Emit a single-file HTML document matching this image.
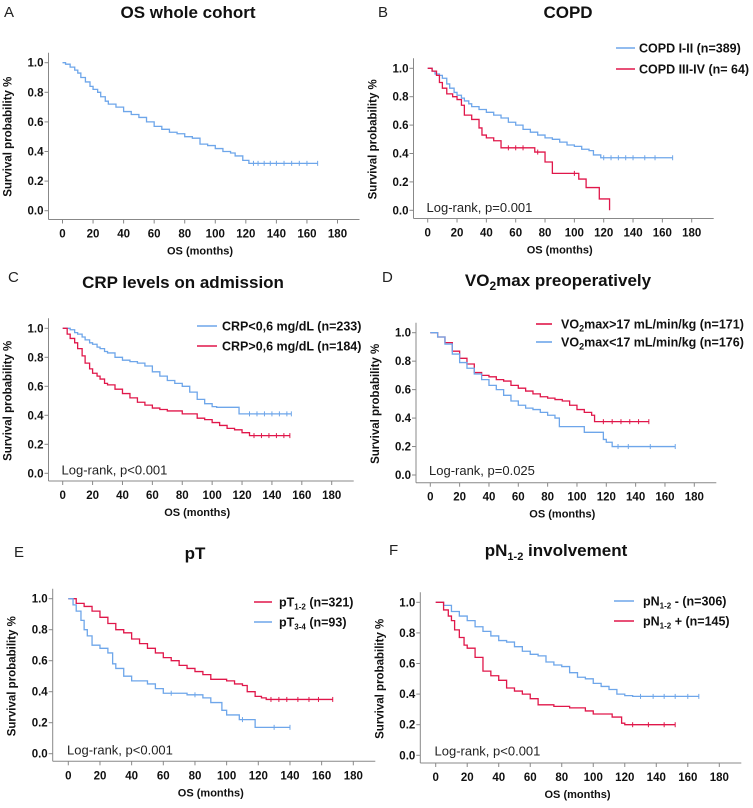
<!DOCTYPE html>
<html><head><meta charset="utf-8"><style>
html,body{margin:0;padding:0;background:#fff;}
svg{display:block;font-family:"Liberation Sans",Arial,sans-serif;}
</style></head><body>
<svg id="fig" width="753" height="808" viewBox="0 0 753 808" xmlns="http://www.w3.org/2000/svg"></svg>
<script>
const xTicks=[0,20,40,60,80,100,120,140,160,180];
const yTicks=[0.0,0.2,0.4,0.6,0.8,1.0];
// Panel A
const aT=[0,2,5,8,10,12,15,18,20,23,25,28,30,35,40,45,50,55,60,65,70,75,80,85,90,95,100,105,110,113,118,122,125,167];
const aS=[1,.99,.97,.95,.93,.90,.87,.84,.82,.80,.77,.74,.72,.70,.67,.65,.63,.60,.57,.55,.53,.52,.50,.49,.45,.44,.42,.40,.39,.37,.34,.32,.32,.32];
const aC=[125,128,132,136,140,145,150,155,160,167];
// Panel B
const bBlueT=[0,3,5,8,10,13,15,18,20,23,25,28,30,35,40,45,50,55,60,65,70,75,80,85,90,95,100,105,110,113,118,167];
const bBlueS=[1,.98,.96,.95,.93,.89,.86,.83,.81,.79,.77,.75,.73,.71,.69,.67,.65,.62,.60,.57,.55,.53,.51,.50,.48,.46,.45,.43,.42,.39,.37,.37];
const bBlueC=[120,125,130,135,140,148,155,167];
const bRedT=[0,3,6,8,10,13,17,20,23,25,30,35,37,40,45,50,70,73,80,85,100,103,108,117,124];
const bRedS=[1,.98,.95,.90,.86,.82,.80,.78,.74,.67,.64,.58,.53,.51,.49,.44,.44,.41,.34,.26,.26,.22,.16,.08,0];
const bRedC=[55,60,65,75,100];
// Panel C
const cBlueT=[0,5,8,10,13,15,18,20,23,25,28,30,35,40,45,50,55,60,65,70,75,80,85,90,95,100,103,118,153];
const cBlueS=[1,.99,.97,.96,.94,.92,.90,.89,.87,.86,.84,.83,.80,.78,.77,.76,.74,.70,.67,.64,.62,.60,.56,.51,.48,.46,.455,.41,.41];
const cBlueC=[125,130,135,140,145,150,153];
const cRedT=[0,3,5,8,10,13,15,18,20,23,25,28,30,35,40,45,50,55,60,65,70,80,90,95,100,105,110,115,120,125,152];
const cRedS=[1,.96,.93,.90,.86,.81,.76,.72,.69,.67,.65,.62,.61,.58,.55,.52,.49,.47,.45,.44,.43,.41,.38,.37,.35,.33,.31,.30,.28,.26,.26];
const cRedC=[128,133,138,143,148,152];
// Panel D
const dRedT=[0,5,10,15,20,25,30,35,40,45,50,55,60,65,70,75,80,85,90,95,100,105,110,112,149];
const dRedS=[1,.97,.93,.87,.82,.78,.72,.70,.69,.67,.66,.63,.61,.59,.57,.55,.54,.53,.52,.49,.46,.44,.42,.375,.375];
const dRedC=[118,124,130,136,142,149];
const dBlueT=[0,5,10,15,20,25,30,35,40,45,50,55,60,65,70,75,80,85,88,105,118,120,124,167];
const dBlueS=[1,.97,.92,.85,.79,.75,.71,.67,.63,.60,.56,.52,.49,.47,.46,.44,.42,.40,.34,.30,.25,.23,.20,.20];
const dBlueC=[128,135,150,167];
// Panel E
const eRedT=[0,5,10,15,20,25,30,35,40,45,50,55,60,65,70,75,80,85,90,100,105,110,113,118,122,125,167];
const eRedS=[1,.97,.95,.92,.88,.84,.80,.78,.74,.71,.68,.65,.62,.60,.57,.55,.53,.51,.48,.47,.45,.44,.40,.37,.36,.35,.35];
const eRedC=[128,133,138,145,152,158,167];
const eBlueT=[0,3,5,8,10,12,15,20,25,28,30,35,40,50,55,60,75,85,90,95,97,100,108,118,140];
const eBlueS=[1,.96,.92,.86,.80,.76,.70,.68,.65,.58,.55,.50,.47,.45,.42,.39,.38,.36,.33,.33,.28,.25,.22,.17,.17];
const eBlueC=[65,80,110,130,140];
// Panel F
const fBlueT=[0,5,10,15,20,25,30,35,40,45,50,55,60,65,70,75,80,85,90,95,100,105,110,115,120,125,167];
const fBlueS=[1,.98,.94,.91,.88,.84,.81,.78,.75,.74,.71,.68,.66,.65,.61,.59,.58,.54,.51,.50,.47,.45,.43,.40,.39,.385,.385];
const fBlueC=[130,138,145,152,160,167];
const fRedT=[0,5,8,10,12,15,18,20,25,30,35,40,45,50,55,60,65,75,85,95,100,112,118,120,152];
const fRedS=[1,.95,.91,.88,.82,.77,.72,.70,.64,.55,.52,.49,.44,.42,.40,.37,.33,.32,.31,.29,.27,.25,.21,.20,.20];
const fRedC=[125,135,145,152];

const BLUE="#6ea6ea", RED="#e0174a";
const svg=document.getElementById('fig');
const NS="http://www.w3.org/2000/svg";
function el(tag,attrs,parent){const e=document.createElementNS(NS,tag);for(const k in attrs)e.setAttribute(k,attrs[k]);(parent||svg).appendChild(e);return e;}

const panels=[
 {id:'a',letter:'A',lx:4,ly:17,title:'OS whole cohort',tx:188,ty:18,x0:62.5,x1:337.5,y1:62.7,y0:210.7,ax:48.5,ab:219.5,
  series:[{t:aT,s:aS,c:aC,col:BLUE,name:'all'}],legend:null,logrank:null},
 {id:'b',letter:'B',lx:378,ly:17,title:'COPD',tx:568,ty:18,x0:427.7,x1:691.7,y1:68.3,y0:210.3,ax:413.5,ab:218.5,
  series:[{t:bBlueT,s:bBlueS,c:bBlueC,col:BLUE,name:'copd-i-ii'},{t:bRedT,s:bRedS,c:bRedC,col:RED,name:'copd-iii-iv'}],
  legend:{lx1:616,lx2:635,tx:639,rows:[[48,'COPD I-II  (n=389)',BLUE],[69,'COPD III-IV (n= 64)',RED]]},logrank:[426.5,212,'Log-rank, p=0.001']},
 {id:'c',letter:'C',lx:8,ly:282,title:'CRP levels on admission',tx:183,ty:288,x0:62.7,x1:331.7,y1:328.3,y0:473.3,ax:48.5,ab:481,
  series:[{t:cBlueT,s:cBlueS,c:cBlueC,col:BLUE,name:'crp-low'},{t:cRedT,s:cRedS,c:cRedC,col:RED,name:'crp-high'}],
  legend:{lx1:197,lx2:217,tx:222,rows:[[326,'CRP&lt;0,6 mg/dL (n=233)',BLUE],[346,'CRP&gt;0,6 mg/dL (n=184)',RED]]},logrank:[61.5,474.5,'Log-rank, p<0.001']},
 {id:'d',letter:'D',lx:382,ly:282,title:'VO<tspan font-size="12" dy="4">2</tspan><tspan dy="-4">max preoperatively</tspan>',tx:558,ty:286,x0:430.3,x1:694.3,y1:332.7,y0:475,ax:416,ab:482.7,
  series:[{t:dRedT,s:dRedS,c:dRedC,col:RED,name:'vo2-high'},{t:dBlueT,s:dBlueS,c:dBlueC,col:BLUE,name:'vo2-low'}],
  legend:{lx1:536,lx2:552,tx:561,rows:[[324,'VO<tspan font-size="9" dy="3">2</tspan><tspan dy="-3">max&gt;17 mL/min/kg (n=171)</tspan>',RED],[342,'VO<tspan font-size="9" dy="3">2</tspan><tspan dy="-3">max&lt;17 mL/min/kg (n=176)</tspan>',BLUE]]},logrank:[429,475,'Log-rank, p=0.025']},
 {id:'e',letter:'E',lx:14,ly:557,title:'pT',tx:195,ty:559,x0:68.3,x1:353.3,y1:598.7,y0:753.7,ax:52.7,ab:761.3,
  series:[{t:eRedT,s:eRedS,c:eRedC,col:RED,name:'pt-1-2'},{t:eBlueT,s:eBlueS,c:eBlueC,col:BLUE,name:'pt-3-4'}],
  legend:{lx1:254,lx2:272,tx:279,rows:[[602,'pT<tspan font-size="8" dy="3">1-2</tspan><tspan dy="-3"> (n=321)</tspan>',RED],[622,'pT<tspan font-size="8" dy="3">3-4</tspan><tspan dy="-3"> (n=93)</tspan>',BLUE]]},logrank:[67,754.5,'Log-rank, p<0.001']},
 {id:'f',letter:'F',lx:389,ly:555,title:'pN<tspan font-size="11" dy="4">1-2</tspan><tspan dy="-4"> involvement</tspan>',tx:556,ty:556,x0:435.7,x1:719.3,y1:602.3,y0:755.3,ax:420.3,ab:763,
  series:[{t:fBlueT,s:fBlueS,c:fBlueC,col:BLUE,name:'pn-neg'},{t:fRedT,s:fRedS,c:fRedC,col:RED,name:'pn-pos'}],
  legend:{lx1:614,lx2:634,tx:643,rows:[[601,'pN<tspan font-size="8" dy="3">1-2</tspan><tspan dy="-3"> -  (n=306)</tspan>',BLUE],[621,' pN<tspan font-size="8" dy="3">1-2</tspan><tspan dy="-3"> + (n=145)</tspan>',RED]]},logrank:[434.5,755.5,'Log-rank, p<0.001']}
];

function stepAt(T,S,t){let v=S[0];for(let i=0;i<T.length;i++){if(T[i]<=t)v=S[i];}return v;}

panels.forEach(p=>{
  const g=el('g',{});
  
  
  const X=v=>p.x0+(p.x1-p.x0)*v/180;
  const Y=v=>p.y0+(p.y1-p.y0)*v;
  const L=el('text',{x:p.lx,y:p.ly,'font-size':15,fill:'#222'},g);L.textContent=p.letter;
  
  const T=el('text',{x:p.tx,y:p.ty,'font-size':17,'font-weight':'bold','text-anchor':'middle',fill:'#111'},g);T.innerHTML=p.title;
  
  const xa=el('line',{x1:p.ax,x2:X(180)+22,y1:p.ab,y2:p.ab,stroke:'#888','stroke-width':1},g);
  
  const ya=el('line',{x1:p.ax,x2:p.ax,y1:p.y1-10,y2:p.ab,stroke:'#888','stroke-width':1},g);
  
  xTicks.forEach(v=>{
    el('line',{x1:X(v),x2:X(v),y1:p.ab,y2:p.ab+4,stroke:'#888'},g);
    const t=el('text',{x:X(v),y:p.ab+18,'font-size':11.5,'font-weight':'bold','text-anchor':'middle',fill:'#111'},g);t.textContent=v;
    
  });
  yTicks.forEach(v=>{
    el('line',{x1:p.ax-4,x2:p.ax,y1:Y(v),y2:Y(v),stroke:'#888'},g);
    const t=el('text',{x:p.ax-5,y:Y(v)+4,'font-size':11.5,'font-weight':'bold','text-anchor':'end',fill:'#111'},g);t.textContent=v.toFixed(1);
    
  });
  const xt=el('text',{x:(X(0)+X(180))/2,y:p.ab+35,'font-size':11,'font-weight':'bold','text-anchor':'middle',fill:'#111'},g);xt.textContent='OS (months)';
  
  const cy=(p.y1+p.y0)/2, cx=p.ax-37;
  const yt=el('text',{x:cx,y:cy,'font-size':11.5,'font-weight':'bold','text-anchor':'middle',fill:'#111',transform:`rotate(-90 ${cx} ${cy})`},g);yt.textContent='Survival probability %';
  
  p.series.forEach(s=>{
    let d=`M${X(s.t[0])},${Y(s.s[0])}`;
    for(let i=1;i<s.t.length;i++){d+=` H${X(s.t[i])} V${Y(s.s[i])}`;}
    const path=el('path',{d:d,fill:'none',stroke:s.col,'stroke-width':1.3},g);
    
    s.c.forEach(ct=>{const yy=Y(stepAt(s.t,s.s,ct));
      const m=el('line',{x1:X(ct),x2:X(ct),y1:yy-2.5,y2:yy+2.5,stroke:s.col,'stroke-width':1},g);
      });
  });
  if(p.legend){
    p.legend.rows.forEach(r=>{
      const ln=el('line',{x1:p.legend.lx1,x2:p.legend.lx2,y1:r[0],y2:r[0],stroke:r[2],'stroke-width':1.6},g);
      
      const tx=el('text',{x:p.legend.tx,y:r[0]+4.5,'font-size':12.5,'font-weight':'bold',fill:'#111'},g);tx.innerHTML=r[1];
      
    });
  }
  if(p.logrank){
    const lr=el('text',{x:p.logrank[0],y:p.logrank[1],'font-size':13,fill:'#222'},g);lr.textContent=p.logrank[2];
    
  }
});
</script>
</body></html>
